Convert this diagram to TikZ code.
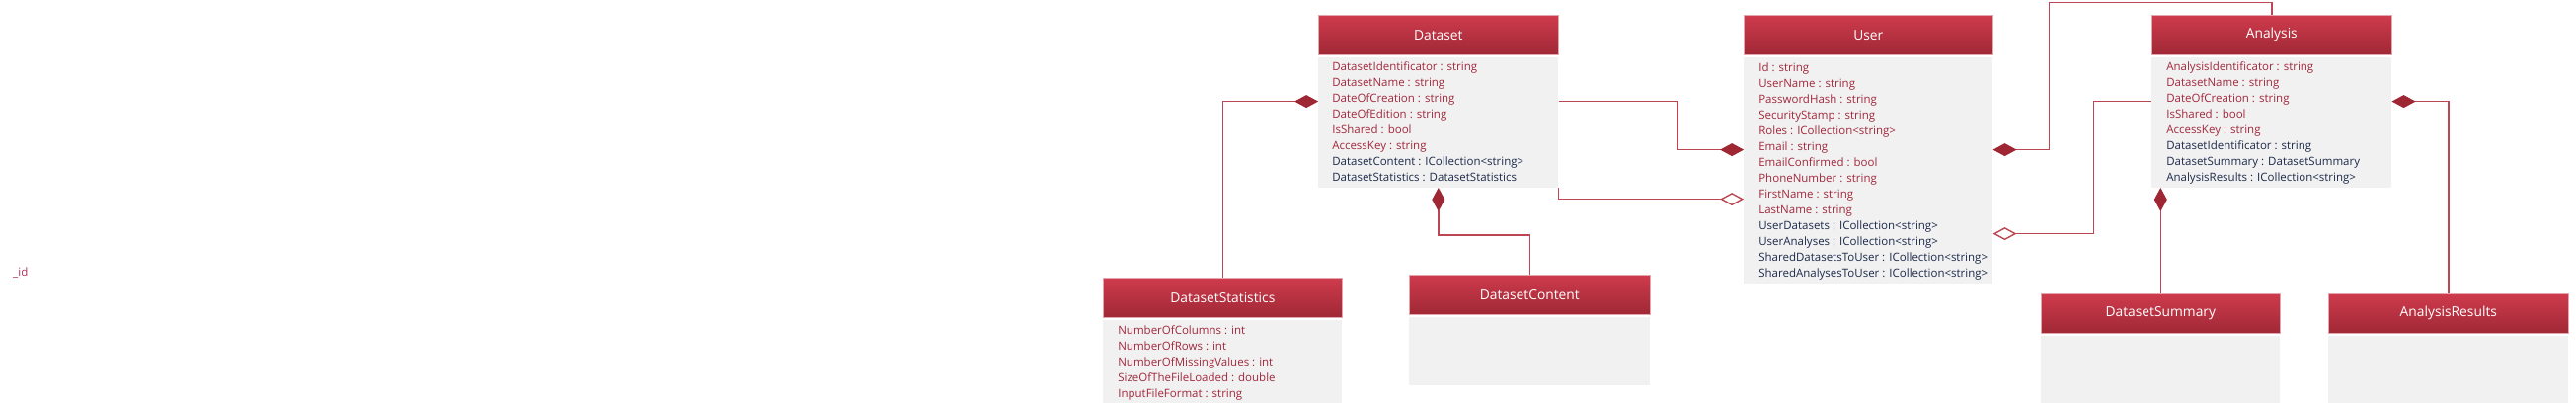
\documentclass[tikz,border=0pt]{standalone}
\usepackage{fontspec}
\setmainfont{Open Sans}
\usetikzlibrary{arrows.meta,positioning,calc}

\definecolor{headtop}{HTML}{CE3B4C}
\definecolor{headbot}{HTML}{A02836}
\definecolor{headedge}{HTML}{E2A7AE}
\definecolor{bodygray}{HTML}{F1F1F1}
\definecolor{attrred}{HTML}{A2283C}
\definecolor{attrnavy}{HTML}{1C2A4A}
\definecolor{linkred}{HTML}{BC4652}
\definecolor{diamondred}{HTML}{9E2733}
\definecolor{idpink}{HTML}{B0325E}

\newcommand{\attrfont}{\fontsize{11.5}{14}\selectfont}
\newcommand{\headfont}{\fontsize{13.8}{16}\selectfont}

\tikzset{
  classhead/.style={draw=headedge, line width=0.6pt, top color=headtop, bottom color=headbot,
    text=white, font=\headfont, minimum height=40pt, inner sep=0pt, anchor=north west},
  classbody/.style={fill=bodygray, inner sep=0pt},
  attr/.style={anchor=base west, inner sep=0pt, font=\attrfont, text=attrred},
  navattr/.style={attr, text=attrnavy},
  link/.style={draw=linkred, line width=1.4pt},
  comp/.style={link, -{Diamond[length=24pt, width=13pt, color=diamondred]}},
  agg/.style={link, -{Diamond[open, length=24pt, width=13pt, fill=white]}},
}

\begin{document}
\begin{tikzpicture}[x=1pt,y=-1pt]
\useasboundingbox (0,0) rectangle (2609,412);

\node[attr, text=idpink] (idlabel) at (13,279) {\_id};

% Dataset
\node[classhead, minimum width=243pt] (datasethead) at (1335,15) {Dataset};
\node[classbody, minimum width=243pt, minimum height=132pt, below=2pt of datasethead] (datasetbody) {};
\foreach \t [count=\i] in {DatasetIdentificator : string, DatasetName : string, DateOfCreation : string,
    DateOfEdition : string, IsShared : bool, AccessKey : string}
  \node[attr] (dsattr\i) at ($(datasetbody.north west)+(14,16*\i-2)$) {\t};
\foreach \t [count=\i from 7] in {DatasetContent : ICollection<string>, DatasetStatistics : DatasetStatistics}
  \node[navattr] (dsattr\i) at ($(datasetbody.north west)+(14,16*\i-2)$) {\t};

% User
\node[classhead, minimum width=252pt] (userhead) at (1766,15) {User};
\node[classbody, minimum width=252pt, minimum height=229pt, below=2pt of userhead] (userbody) {};
\foreach \t [count=\i] in {Id : string, UserName : string, PasswordHash : string, SecurityStamp : string,
    Roles : ICollection<string>, Email : string, EmailConfirmed : bool, PhoneNumber : string,
    FirstName : string, LastName : string}
  \node[attr] (userattr\i) at ($(userbody.north west)+(15,16*\i-1)$) {\t};
\foreach \t [count=\i from 11] in {UserDatasets : ICollection<string>, UserAnalyses : ICollection<string>,
    SharedDatasetsToUser : ICollection<string>, SharedAnalysesToUser : ICollection<string>}
  \node[navattr] (userattr\i) at ($(userbody.north west)+(15,16*\i-1)$) {\t};

% Analysis
\node[classhead, minimum width=243pt] (analysishead) at (2179,15) {Analysis};
\node[classbody, minimum width=243pt, minimum height=132pt, below=2pt of analysishead] (analysisbody) {};
\foreach \t [count=\i] in {AnalysisIdentificator : string, DatasetName : string, DateOfCreation : string,
    IsShared : bool, AccessKey : string}
  \node[attr] (anattr\i) at ($(analysisbody.north west)+(15,16*\i-2)$) {\t};
\foreach \t [count=\i from 6] in {DatasetIdentificator : string, DatasetSummary : DatasetSummary,
    AnalysisResults : ICollection<string>}
  \node[navattr] (anattr\i) at ($(analysisbody.north west)+(15,16*\i-2)$) {\t};

% DatasetStatistics
\node[classhead, minimum width=242pt] (dstatshead) at (1117,281) {DatasetStatistics};
\node[classbody, minimum width=242pt, minimum height=84pt, below=2pt of dstatshead] (dstatsbody) {};
\foreach \t [count=\i] in {NumberOfColumns : int, NumberOfRows : int, NumberOfMissingValues : int,
    SizeOfTheFileLoaded : double, InputFileFormat : string}
  \node[attr] (dstatsattr\i) at ($(dstatsbody.north west)+(15,16*\i-1)$) {\t};

% empty classes
\node[classhead, minimum width=244pt] (dcontenthead) at (1427,278) {DatasetContent};
\node[classbody, minimum width=244pt, minimum height=69pt, below=2pt of dcontenthead] (dcontentbody) {};
\node[classhead, minimum width=242pt] (dsummaryhead) at (2067,297) {DatasetSummary};
\node[classbody, minimum width=242pt, minimum height=68pt, below=2pt of dsummaryhead] (dsummarybody) {};
\node[classhead, minimum width=243pt] (aresultshead) at (2358,297) {AnalysisResults};
\node[classbody, minimum width=243pt, minimum height=68pt, below=2pt of aresultshead] (aresultsbody) {};

% connectors
\draw[comp] (dstatshead.north) |- ($(datasetbody.north west)+(0,45)$);
\draw[comp] (dcontenthead.north) |- ($(datasetbody.south)+(0,48)$) -- (datasetbody.south);
\draw[comp] ($(datasetbody.north east)+(0,45)$) -| ($(userbody.north west)+(-67,94)$) -- ($(userbody.north west)+(0,94)$);
\draw[agg] (datasetbody.south east) |- ($(userbody.north west)+(0,144)$);
\draw[comp] (analysishead.north) |- ($(userbody.north east)+(57,-55)$) |- ($(userbody.north east)+(0,94)$);
\draw[agg] ($(analysisbody.north west)+(0,45)$) -| ($(userbody.north east)+(102,179)$) -- ($(userbody.north east)+(0,179)$);
\draw[comp] (dsummaryhead.north) -- (dsummaryhead.north |- analysisbody.south);
\draw[comp] (aresultshead.north) |- ($(analysisbody.north east)+(0,45)$);
\end{tikzpicture}
\end{document}
